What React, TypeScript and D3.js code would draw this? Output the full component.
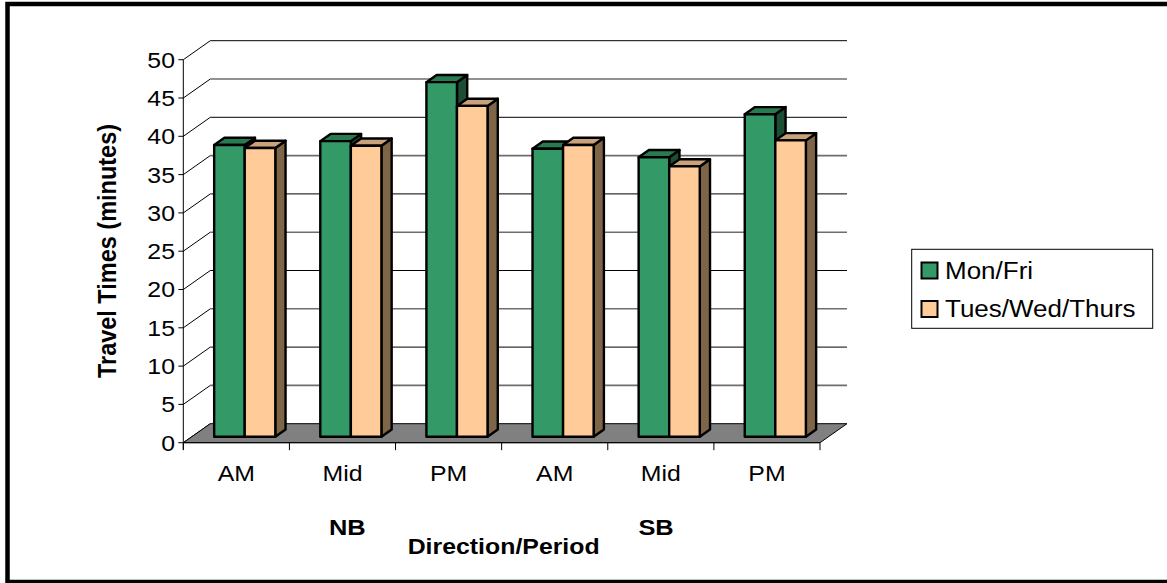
import React from "react";
import * as d3 from "d3";

// Travel time survey: two day groups, six direction/period slots
const categories = ["NB-AM", "NB-Mid", "NB-PM", "SB-AM", "SB-Mid", "SB-PM"];
const periodLabels = ["AM", "Mid", "PM", "AM", "Mid", "PM"];
const directions = ["NB", "SB"];
const seriesNames = ["Mon/Fri", "Tues/Wed/Thurs"];
const monFri = [38.1, 38.6, 46.3, 37.6, 36.5, 42.1];
const tuesWedThurs = [37.7, 38.0, 43.2, 38.1, 35.3, 38.7];
const yTicks = [0, 5, 10, 15, 20, 25, 30, 35, 40, 45, 50];

const W = 1167;
const H = 583;
const FONT = "'Liberation Sans', Arial, Helvetica, sans-serif";
const SX = 1.13; // horizontal text stretch of the chart export

// 3D projection: depth vector of the plot box
const DEPTH_X = 27;
const DEPTH_Y = -19;
const BAR_FRONT = 0.31;
const BAR_BACK = 0.69;

const colors = {
  front: ["#339966", "#FFCC99"],
  top: ["#287a50", "#c9a27b"],
  side: ["#1d4d34", "#7f6548"],
};

function Label(props: {
  x: number;
  y: number;
  size: number;
  bold?: boolean;
  anchor?: "start" | "middle" | "end";
  rotate?: boolean;
  children: React.ReactNode;
}) {
  const { x, y, size, bold, anchor = "start", rotate, children } = props;
  return (
    <text
      transform={`translate(${x},${y}) scale(${SX},1)${rotate ? " rotate(-90)" : ""}`}
      fontSize={size}
      fontWeight={bold ? "bold" : "normal"}
      textAnchor={anchor}
      fontFamily={FONT}
      fill="#000"
    >
      {children}
    </text>
  );
}

export default function App() {
  const x = d3.scaleBand<string>().domain(categories).range([183.3, 820]).padding(0);
  const y = d3.scaleLinear().domain([0, 50]).range([442.7, 59.7]);
  const step = x.bandwidth();
  const inner = d3
    .scaleBand<string>()
    .domain(seriesNames)
    .range([step * 0.212, step * 0.788])
    .padding(0);
  const bw = inner.bandwidth();

  const x0 = x.range()[0];
  const x1 = x.range()[1];
  const y0 = y(0);

  const series = [monFri, tuesWedThurs];

  const fx = BAR_FRONT * DEPTH_X;
  const fy = BAR_FRONT * DEPTH_Y;
  const bdx = (BAR_BACK - BAR_FRONT) * DEPTH_X;
  const bdy = (BAR_BACK - BAR_FRONT) * DEPTH_Y;

  const bars: JSX.Element[] = [];
  categories.forEach((c, i) => {
    seriesNames.forEach((s, si) => {
      const v = series[si][i];
      const left = (x(c) as number) + (inner(s) as number) + fx;
      const right = left + bw;
      const bottom = y0 + fy;
      const top = y(v) + fy;
      const topFace = `M${left},${top}L${left + bdx},${top + bdy}L${right + bdx},${top + bdy}L${right},${top}Z`;
      const sideFace = `M${right},${top}L${right + bdx},${top + bdy}L${right + bdx},${bottom + bdy}L${right},${bottom}Z`;
      bars.push(
        <g key={`${c}-${s}`} stroke="#000" strokeWidth={2.4} strokeLinejoin="round">
          <path d={sideFace} fill={colors.side[si]} />
          <path d={topFace} fill={colors.top[si]} />
          <rect x={left} y={top} width={bw} height={bottom - top} fill={colors.front[si]} />
        </g>
      );
    });
  });

  const floor = `M${x0},${y0}L${x1},${y0}L${x1 + DEPTH_X},${y0 + DEPTH_Y}L${x0 + DEPTH_X},${y0 + DEPTH_Y}Z`;

  const groupCenter = (g: number) => {
    const a = x(categories[g * 3]) as number;
    const b = (x(categories[g * 3 + 2]) as number) + step;
    const mid = (a + b) / 2;
    const chartMid = (x0 + x1) / 2;
    return mid + (chartMid - mid) * 0.03;
  };

  return (
    <svg
      width={W}
      height={H}
      style={{ position: "absolute", left: 0, top: 0, background: "#fff" }}
    >
      <rect x={0} y={0} width={W} height={H} fill="#fff" />
      {/* outer frame */}
      <rect x={7.5} y={4} width={W + 20} height={578} fill="none" stroke="#000" strokeWidth={4.5} />

      {/* back wall gridlines and side wall diagonals */}
      {yTicks.map((t) => (
        <g key={`g${t}`} stroke="#000" strokeWidth={1} fill="none">
          {t > 0 && (
            <line x1={x0 + DEPTH_X} x2={x1 + DEPTH_X} y1={y(t) + DEPTH_Y} y2={y(t) + DEPTH_Y} stroke={t % 10 === 0 ? "#000" : "#6e6e6e"} strokeWidth={t % 10 === 0 ? 1 : 1.6} />
          )}
          <line x1={x0} y1={y(t)} x2={x0 + DEPTH_X} y2={y(t) + DEPTH_Y} />
        </g>
      ))}

      {/* floor */}
      <path d={floor} fill="#808080" stroke="#000" strokeWidth={1} />

      {bars}

      {/* value axis */}
      <line x1={x0} x2={x0} y1={y(0) + 7} y2={y(50)} stroke="#000" strokeWidth={1} />
      {yTicks.map((t) => (
        <g key={`t${t}`}>
          <line x1={x0 - 5} x2={x0} y1={y(t)} y2={y(t)} stroke="#000" strokeWidth={1} />
          <Label x={175} y={y(t) + 7.9} size={22} anchor="end">
            {t}
          </Label>
        </g>
      ))}

      {/* category axis */}
      <line x1={x0} x2={x1} y1={y0} y2={y0} stroke="#000" strokeWidth={1} />
      {d3.range(categories.length + 1).map((k) => (
        <line key={`c${k}`} x1={x0 + k * step} x2={x0 + k * step} y1={y0} y2={y0 + 7.5} stroke="#000" strokeWidth={1} />
      ))}
      {categories.map((c, i) => (
        <Label key={`l${c}`} x={(x(c) as number) + step / 2} y={481} size={22} anchor="middle">
          {periodLabels[i]}
        </Label>
      ))}
      {directions.map((d, g) => (
        <Label key={d} x={groupCenter(g)} y={535} size={22.5} bold anchor="middle">
          {d}
        </Label>
      ))}
      <Label x={(x0 + x1) / 2 + 2} y={554} size={22} bold anchor="middle">
        Direction/Period
      </Label>
      <Label x={116} y={251} size={23.5} bold anchor="middle" rotate>
        Travel Times (minutes)
      </Label>

      {/* legend */}
      <rect x={911.7} y={249.3} width={241} height={79} fill="#fff" stroke="#000" strokeWidth={1} />
      {seriesNames.map((s, si) => (
        <g key={`lg${s}`}>
          <rect x={921.5} y={262.5 + si * 38.5} width={16} height={16} fill={colors.front[si]} stroke="#000" strokeWidth={2} />
          <Label x={945} y={279 + si * 38.3} size={23}>
            {s}
          </Label>
        </g>
      ))}
    </svg>
  );
}
